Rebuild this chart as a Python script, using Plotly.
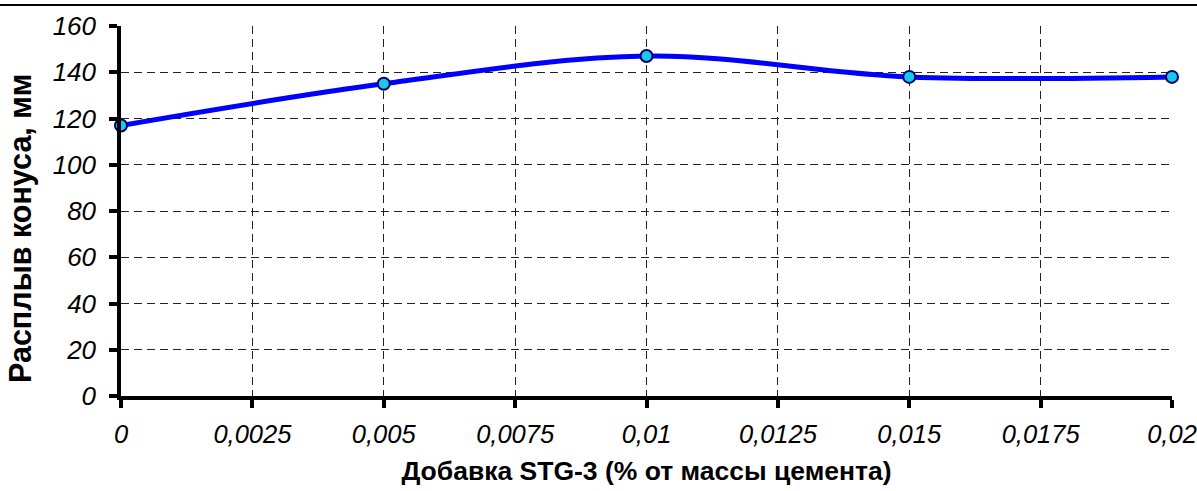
import plotly.graph_objects as go

x_vals = [0, 0.005, 0.01, 0.015, 0.02]
y_vals = [117, 135, 147, 138, 138]
x_tickvals = [0, 0.0025, 0.005, 0.0075, 0.01, 0.0125, 0.015, 0.0175, 0.02]
x_ticktext = ["0", "0,0025", "0,005", "0,0075", "0,01", "0,0125", "0,015", "0,0175", "0,02"]
y_tickvals = [0, 20, 40, 60, 80, 100, 120, 140, 160]
y_ticktext = [str(v) for v in y_tickvals]

FONT = "Liberation Sans, Arial"

fig = go.Figure()
fig.add_trace(go.Scatter(
    x=x_vals, y=y_vals, mode="lines+markers",
    line=dict(color="#0000ff", width=5, shape="spline", smoothing=1.0),
    marker=dict(size=12, color="#19c8f0", line=dict(color="#000066", width=2)),
    cliponaxis=False, showlegend=False,
))

fig.update_layout(
    template="none",
    width=1197, height=491,
    margin=dict(l=121, r=25, t=26, b=95),
    paper_bgcolor="white", plot_bgcolor="white",
    font=dict(family=FONT, color="black"),
    xaxis=dict(
        range=[0, 0.02], tickvals=x_tickvals, ticktext=x_ticktext,
        automargin=False, ticklabeloverflow="allow",
        showline=True, linecolor="black", linewidth=3.5,
        ticks="outside", ticklen=8, tickwidth=3.5, tickcolor="black",
        showgrid=True, gridcolor="#222222", gridwidth=1, griddash="8px,5px",
        zeroline=False, ticklabelstandoff=5,
        tickfont=dict(size=25.5, family=FONT, style="italic"),
        title=dict(text="<b>Добавка STG-3 (% от массы цемента)</b>",
                   font=dict(size=26.5, family=FONT), standoff=15),
    ),
    yaxis=dict(
        range=[0, 160], tickvals=y_tickvals, ticktext=y_ticktext,
        automargin=False,
        showline=True, linecolor="black", linewidth=3.5,
        ticks="outside", ticklen=8, tickwidth=3.5, tickcolor="black",
        showgrid=True, gridcolor="#222222", gridwidth=1, griddash="8px,5px",
        zeroline=False, ticklabelstandoff=8,
        tickfont=dict(size=26, family=FONT, style="italic"),
    ),
)

fig.add_annotation(
    text="<b>Расплыв конуса, мм</b>", textangle=-90,
    xref="paper", yref="paper", x=(21 - 121) / 1051, y=(396 - 229) / 370,
    xanchor="center", yanchor="middle", showarrow=False,
    font=dict(size=30.5, family=FONT, color="black"),
)

fig.add_shape(type="line", xref="paper", yref="paper", x0=-0.2, x1=1.1,
              y0=1 + 21 / 370, y1=1 + 21 / 370, line=dict(color="black", width=2))

fig.write_html("out.html", config={"displayModeBar": False},
               post_script="document.body.style.margin='0';")
